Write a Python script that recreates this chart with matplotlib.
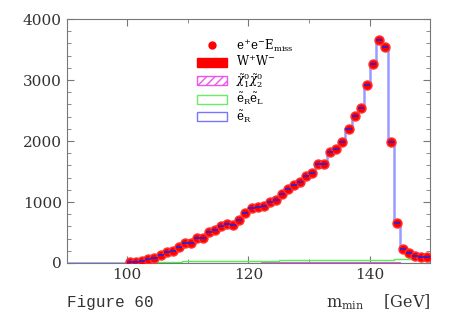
import numpy as np
import matplotlib.pyplot as plt
from matplotlib.patches import Patch
from matplotlib.lines import Line2D

# bins of 1 GeV from 90 to 150
edges = np.arange(90, 151, 1)

# e+e- E_miss data, bins 100..149
data = [16, 16, 28, 60, 88, 126, 175, 202, 262, 328,
        333, 415, 415, 502, 535, 606, 634, 623, 705, 825,
        897, 913, 940, 1000, 1030, 1131, 1218, 1278, 1328, 1421,
        1475, 1617, 1628, 1814, 1864, 1983, 2191, 2415, 2535, 2917,
        3256, 3660, 3545, 1983, 650, 224, 170, 115, 104, 104]

# e_R e_L, bins 100..149
eReL = [5, 8, 10, 12, 15, 18, 20, 22, 24, 25,
        26, 27, 28, 30, 32, 34, 36, 35, 34, 33,
        32, 34, 36, 38, 40, 42, 45, 46, 47, 48,
        48, 49, 50, 50, 51, 51, 52, 52, 53, 53,
        54, 54, 55, 55, 62, 63, 64, 65, 65, 65]

# chi1 chi2, bins 100..149
chi = [0, 0, 1, 1, 2, 2, 3, 3, 4, 4,
       5, 5, 5, 6, 6, 6, 6, 7, 7, 7,
       7, 7, 8, 8, 8, 8, 8, 8, 9, 9,
       9, 9, 9, 9, 9, 9, 10, 10, 10, 10,
       10, 10, 10, 9, 8, 7, 6, 6, 5, 5]

# W+W-, bins 100..149
ww = [0, 0, 0, 0, 1, 1, 1, 1, 1, 1,
      1, 1, 1, 1, 1, 2, 2, 2, 2, 2,
      2, 2, 2, 2, 2, 2, 2, 2, 2, 2,
      2, 2, 2, 2, 2, 2, 2, 2, 2, 2,
      2, 2, 2, 2, 2, 2, 2, 2, 2, 2]

pad = [0] * 10
centers = edges[10:-1] + 0.5

plt.rcParams['font.family'] = 'DejaVu Serif'
plt.rcParams['mathtext.fontset'] = 'dejavuserif'

fig = plt.figure(figsize=(4.53, 3.18), dpi=100)
ax = fig.add_axes([0.147, 0.173, 0.803, 0.767])

ax.stairs(pad + ww, edges, fill=True, color='red', zorder=2)
ax.stairs(pad + chi, edges, fill=True, facecolor='none', edgecolor='#ee55ee',
          hatch='////', lw=0.8, zorder=2)
ax.stairs(pad + eReL, edges, color='#55ee55', lw=1, zorder=2)
ax.stairs(pad + data, edges, color='#9a9aff', lw=1.8, zorder=3)
ax.plot(centers, data, 'o', color='red', ms=6.5, mec='#ff3333', zorder=4)
ax.hlines(data, edges[10:-1], edges[11:], color='#2222dd', lw=1.2, zorder=5)

# legend proxies
handles = [
    Line2D([], [], marker='o', ls='none', color='red', ms=5),
    Patch(facecolor='red', edgecolor='red'),
    Patch(facecolor='white', edgecolor='#ee55ee', hatch='////'),
    Patch(facecolor='white', edgecolor='#66ee66'),
    Patch(facecolor='white', edgecolor='#7777ff'),
]
labels = [r'$\mathrm{e^{+}e^{-}E_{miss}}$',
          r'$\mathrm{W^{+}W^{-}}$',
          r'$\tilde{\chi}^0_1\tilde{\chi}^0_2$',
          r'$\tilde{\mathrm{e}}_\mathrm{R}\tilde{\mathrm{e}}_\mathrm{L}$',
          r'$\tilde{\mathrm{e}}_\mathrm{R}$']
ax.legend(handles, labels, loc='upper left', bbox_to_anchor=(0.33, 0.97),
          frameon=False, fontsize=8.5, handlelength=2.5, handleheight=0.8,
          labelspacing=0.1, handletextpad=0.8)

ax.set_xlim(90, 150)
ax.set_ylim(0, 4000)
ax.set_xticks([100, 120, 140])
ax.set_xticks([110, 130], minor=True)
ax.set_yticks([0, 1000, 2000, 3000, 4000])
ax.set_yticks(np.arange(0, 4001, 200), minor=True)
ax.tick_params(which='both', direction='in', top=True, right=True,
               labelsize=11, color='#777777', labelcolor='#333333')
ax.tick_params(which='major', length=5)
ax.tick_params(which='minor', length=3)
for s in ax.spines.values():
    s.set_color('#777777')
    s.set_linewidth(0.8)

fig.text(0.148, 0.035, 'Figure 60', fontsize=11.5, color='#333333',
         family='Liberation Mono')
fig.text(0.95, 0.035, r'$\mathrm{m_{min}}$    [GeV]', fontsize=11.5,
         ha='right', color='#333333')

fig.savefig('out.png', dpi=100)
